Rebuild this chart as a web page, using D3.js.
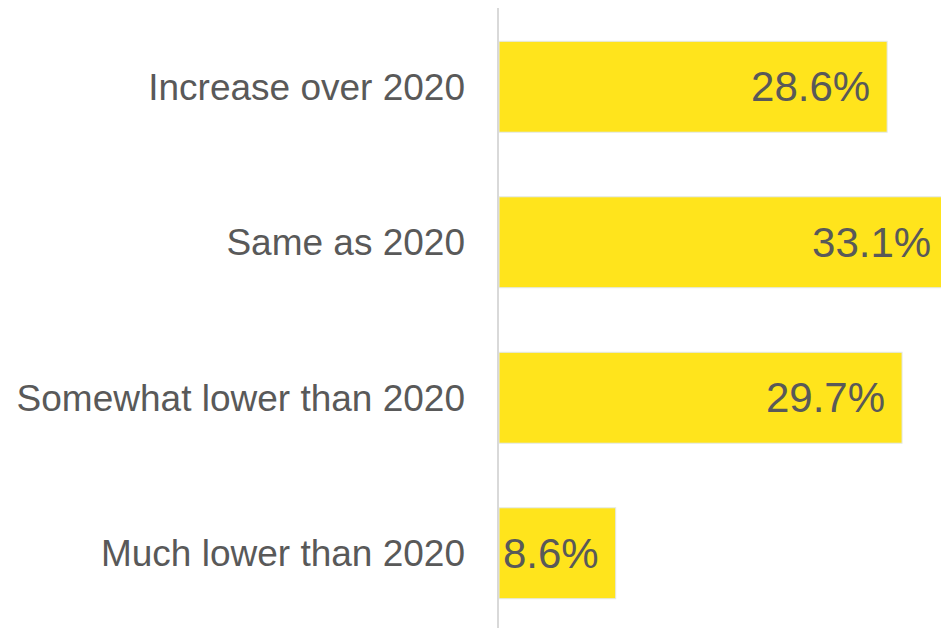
<!DOCTYPE html>
<html lang="en">
<head>
<meta charset="UTF-8">
<title>Bars</title>
<script src="https://d3js.org/d3.v7.min.js"></script>
<style>
    body{ margin:0; padding:0; background:#fff; }
    svg{ display:block; }
</style>
</head>
<body>
<svg id="misvg"></svg>
<script>
    let categorias = ["Increase over 2020", "Same as 2020", "Somewhat lower than 2020", "Much lower than 2020"]
    let valores = [28.6, 33.1, 29.7, 8.6]

    let svgw = 941, svgh = 628
    let ejeX = 499

    let svg = d3.select("#misvg")
        .attr('width', svgw)
        .attr('height', svgh)

    let escalaX = d3.scaleLinear()
        .domain([0, 35])
        .range([ejeX, ejeX + 475])

    let escalaY = d3.scaleBand()
        .domain(categorias)
        .range([9, 631])
        .paddingInner(0.415)
        .paddingOuter(0.2075)

    let datos = categorias.map((c, i) => ({cat: c, val: valores[i]}))

    svg.selectAll('rect.barra')
        .data(datos)
        .enter().append('rect')
        .attr('class', 'barra')
        .attr('x', escalaX(0))
        .attr('y', d => escalaY(d.cat))
        .attr('width', d => escalaX(d.val) - escalaX(0))
        .attr('height', escalaY.bandwidth())
        .attr('fill', '#FFE41C')
        .attr('stroke', '#e2e8ee')
        .attr('stroke-width', 1)

    // eje vertical
    svg.append('line')
        .attr('x1', ejeX - 1).attr('x2', ejeX - 1)
        .attr('y1', 8).attr('y2', 628)
        .attr('stroke', '#d9d9d9')
        .attr('stroke-width', 2)

    svg.selectAll('text.cat')
        .data(datos)
        .enter().append('text')
        .attr('class', 'cat')
        .attr('x', 465)
        .attr('y', d => escalaY(d.cat) + escalaY.bandwidth() / 2)
        .attr('dy', '0.35em')
        .attr('text-anchor', 'end')
        .attr('fill', '#595959')
        .style('font-family', 'Liberation Sans, Arial, sans-serif')
        .style('font-size', '37px')
        .text(d => d.cat)

    svg.selectAll('text.val')
        .data(datos)
        .enter().append('text')
        .attr('class', 'val')
        .attr('x', d => escalaX(d.val) - 17)
        .attr('y', d => escalaY(d.cat) + escalaY.bandwidth() / 2)
        .attr('dy', '0.35em')
        .attr('text-anchor', 'end')
        .attr('fill', '#595959')
        .style('font-family', 'Liberation Sans, Arial, sans-serif')
        .style('font-size', '42px')
        .text(d => d.val.toFixed(1) + '%')
</script>
</body>
</html>
